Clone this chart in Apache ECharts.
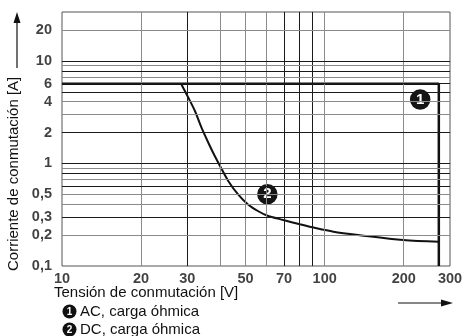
<!DOCTYPE html>
<html><head><meta charset="utf-8">
<script src="https://cdn.jsdelivr.net/npm/echarts@6/dist/echarts.min.js"></script>
<style>html,body{margin:0;padding:0;background:#fff}#c{width:462px;height:336px}</style>
</head><body><div id="c"></div>
<script>
const xTickValues = [10, 20, 30, 50, 70, 100, 200, 300];
const xTickLabels = ['10', '20', '30', '50', '70', '100', '200', '300'];
const yTickValues = [0.1, 0.2, 0.3, 0.5, 1, 2, 4, 6, 10, 20];
const yTickLabels = ['0,1', '0,2', '0,3', '0,5', '1', '2', '4', '6', '10', '20'];
const xGridDark = [30, 70, 80, 90];
const xGridLight = [20, 40, 50, 60, 100, 200];
const yGridDark = [0.3, 0.6, 0.8, 1, 2, 5, 6, 8, 10];
const yGridLight = [0.2, 0.4, 0.5, 0.7, 0.9, 3, 4, 7, 9, 20];
const acVoltage = [10, 272, 272];
const acCurrent = [6, 6, 0.1];
const dcVoltage = [28.4, 30.3, 32.1, 34.0, 36.1, 38.2, 40.0, 43.0, 46.9, 51.2, 55.9, 60.3, 69.6, 80.5, 93.2, 108, 136, 199, 272];
const dcCurrent = [6, 4.36, 3.23, 2.22, 1.585, 1.175, 0.94, 0.671, 0.496, 0.396, 0.342, 0.311, 0.281, 0.255, 0.233, 0.216, 0.2, 0.179, 0.172];
const markerLabels = ['1', '2'];
const markerVoltage = [231, 60.5];
const markerCurrent = [4.2, 0.5];
const legendTexts = ['AC, carga óhmica', 'DC, carga óhmica'];
const xName = 'Tensión de conmutación [V]';
const yName = 'Corriente de conmutación [A]';

const FONT = '"Liberation Sans", Arial, Helvetica, sans-serif';
const DARK = '#1a1a1a', LIGHT = '#8a8a8a';

const gridLines = [];
xGridDark.forEach(v => gridLines.push({ xAxis: v, lineStyle: { color: DARK, width: 1, type: 'solid' } }));
xGridLight.forEach(v => gridLines.push({ xAxis: v, lineStyle: { color: LIGHT, width: 1, type: 'solid' } }));
yGridDark.forEach(v => gridLines.push({ yAxis: v, lineStyle: { color: DARK, width: 1, type: 'solid' } }));
yGridLight.forEach(v => gridLines.push({ yAxis: v, lineStyle: { color: LIGHT, width: 1, type: 'solid' } }));

const chart = echarts.init(document.getElementById('c'), null, { renderer: 'canvas' });
chart.setOption({
  animation: false,
  backgroundColor: '#fff',
  grid: { left: 62, right: 12, top: 12, bottom: 70, show: true, borderColor: '#555', borderWidth: 1, backgroundColor: 'transparent' },
  xAxis: { type: 'log', logBase: 10, min: 10, max: 300, axisLabel: { show: false }, axisTick: { show: false }, axisLine: { show: false }, splitLine: { show: false }, minorSplitLine: { show: false } },
  yAxis: { type: 'log', logBase: 10, min: 0.1, max: 30, axisLabel: { show: false }, axisTick: { show: false }, axisLine: { show: false }, splitLine: { show: false }, minorSplitLine: { show: false } },
  series: [
    {
      type: 'scatter', z: 1, silent: true, symbolSize: 0, clip: false,
      data: [[10, 0.1]],
      markLine: { silent: true, symbol: ['none', 'none'], label: { show: false }, animation: false, data: gridLines }
    },
    {
      type: 'scatter', z: 2, silent: true, symbolSize: 0, clip: false,
      data: yTickValues.map((v, i) => ({ name: yTickLabels[i], value: [10, v] })),
      label: { show: true, position: 'left', distance: 10, formatter: '{b}', color: '#111', fontFamily: FONT, fontWeight: 'bold', fontSize: 14.5 }
    },
    {
      type: 'scatter', z: 2, silent: true, symbolSize: 0, clip: false,
      data: xTickValues.map((v, i) => ({ name: xTickLabels[i], value: [v, 0.1] })),
      label: { show: true, position: 'bottom', distance: 5, formatter: '{b}', color: '#111', fontFamily: FONT, fontWeight: 'bold', fontSize: 14.5 }
    },
    {
      type: 'line', z: 3, silent: true, symbol: 'none', clip: false,
      data: acVoltage.map((v, i) => [v, acCurrent[i]]),
      lineStyle: { color: '#111', width: 2.5 }
    },
    {
      type: 'line', z: 3, silent: true, symbol: 'none', smooth: 0.3, clip: false,
      data: dcVoltage.map((v, i) => [v, dcCurrent[i]]),
      lineStyle: { color: '#111', width: 2 }
    },
    {
      type: 'scatter', z: 4, silent: true, symbol: 'circle', symbolSize: 23, clip: false,
      data: markerLabels.map((t, i) => ({ name: t, value: [markerVoltage[i], markerCurrent[i]] })),
      itemStyle: { color: '#151515', borderColor: '#ffffff', borderWidth: 2.5, opacity: 1 },
      label: { show: true, position: 'inside', formatter: '{b}', color: '#ffffff', fontFamily: FONT, fontWeight: 'bold', fontSize: 15, textBorderWidth: 0, textShadowBlur: 0 },
      labelLayout: { hideOverlap: false }
    }
  ],
  graphic: [
    { type: 'text', x: 14, y: 271, rotation: Math.PI / 2, style: { text: yName, font: '15px ' + FONT, fill: '#111', textAlign: 'left', textVerticalAlign: 'middle' } },
    { type: 'line', shape: { x1: 17, y1: 68, x2: 17, y2: 20 }, style: { stroke: '#111', lineWidth: 1.2 } },
    { type: 'polygon', shape: { points: [[17, 12], [13.5, 23], [20.5, 23]] }, style: { fill: '#111' } },
    { type: 'text', x: 54, y: 292.5, style: { text: xName, font: '15px ' + FONT, fill: '#111', textAlign: 'left', textVerticalAlign: 'middle' } },
    { type: 'line', shape: { x1: 398, y1: 303, x2: 444, y2: 303 }, style: { stroke: '#111', lineWidth: 1.2 } },
    { type: 'polygon', shape: { points: [[453, 303], [441, 299.5], [441, 306.5]] }, style: { fill: '#111' } },
    { type: 'circle', shape: { cx: 69.5, cy: 311.5, r: 7 }, style: { fill: '#111' } },
    { type: 'text', x: 69.5, y: 312, style: { text: '1', font: 'bold 10px ' + FONT, fill: '#fff', textAlign: 'center', textVerticalAlign: 'middle' } },
    { type: 'text', x: 80, y: 312, style: { text: legendTexts[0], font: '15px ' + FONT, fill: '#111', textAlign: 'left', textVerticalAlign: 'middle' } },
    { type: 'circle', shape: { cx: 69.5, cy: 329.5, r: 7 }, style: { fill: '#111' } },
    { type: 'text', x: 69.5, y: 330, style: { text: '2', font: 'bold 10px ' + FONT, fill: '#fff', textAlign: 'center', textVerticalAlign: 'middle' } },
    { type: 'text', x: 80, y: 330, style: { text: legendTexts[1], font: '15px ' + FONT, fill: '#111', textAlign: 'left', textVerticalAlign: 'middle' } }
  ]
});
</script>
</body></html>
